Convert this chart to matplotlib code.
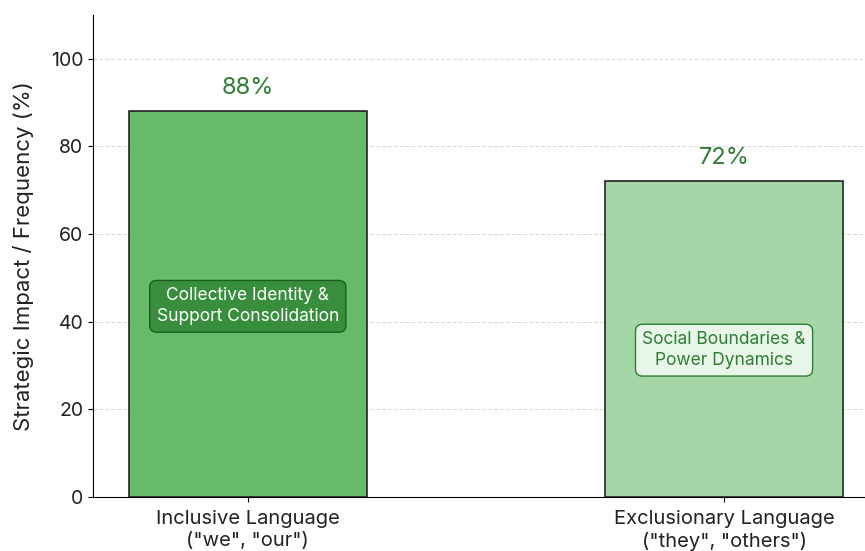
import matplotlib.pyplot as plt
import numpy as np

plt.rcParams['font.family'] = ['Inter', 'DejaVu Sans']

# data
categories = ['Inclusive Language\n("we", "our")', 'Exclusionary Language\n("they", "others")']
values = [88, 72]
value_labels = ['88%', '72%']
notes = ['Collective Identity &\nSupport Consolidation', 'Social Boundaries &\nPower Dynamics']
note_y = [43.5, 33.5]

bar_colors = ['#66bb6a', '#a5d6a7']
dark_green = '#2e7d32'

fig = plt.figure(figsize=(8.65, 5.51), dpi=100)
ax = fig.add_axes([0.1075, 0.098, 0.9085, 0.875])

x = np.arange(len(categories))
bars = ax.bar(x, values, width=0.5, color=bar_colors, edgecolor='#222222', linewidth=1.2, zorder=3)

for i, (v, lab) in enumerate(zip(values, value_labels)):
    ax.text(x[i], v + 2.8, lab, ha='center', va='bottom', fontsize=17, color=dark_green)

# note boxes inside bars
ax.text(x[0], note_y[0], notes[0], ha='center', va='center', fontsize=12.5, color='white',
        linespacing=1.3,
        bbox=dict(boxstyle='round,pad=0.4', facecolor='#388e3c', edgecolor='#1b5e20', linewidth=1), zorder=4)
ax.text(x[1], note_y[1], notes[1], ha='center', va='center', fontsize=12.5, color=dark_green,
        linespacing=1.3,
        bbox=dict(boxstyle='round,pad=0.4', facecolor='#e8f5e9', edgecolor=dark_green, linewidth=1), zorder=4)

ax.set_ylim(0, 110)
ax.set_xlim(-0.325, 1.325)
ax.set_yticks([0, 20, 40, 60, 80, 100])
ax.set_xticks(x)
ax.set_xticklabels(categories, fontsize=14.5, linespacing=1.25, color='#222222')
ax.tick_params(axis='y', labelsize=14, labelcolor='#222222')
ax.tick_params(axis='x', pad=6)
ax.set_ylabel('Strategic Impact / Frequency (%)', fontsize=16, labelpad=12, color='#222222')

ax.yaxis.grid(True, linestyle='--', color='#cccccc', alpha=0.7, zorder=0)
ax.set_axisbelow(True)
ax.spines['top'].set_visible(False)
ax.spines['right'].set_visible(False)

fig.savefig('out.png', dpi=100)
